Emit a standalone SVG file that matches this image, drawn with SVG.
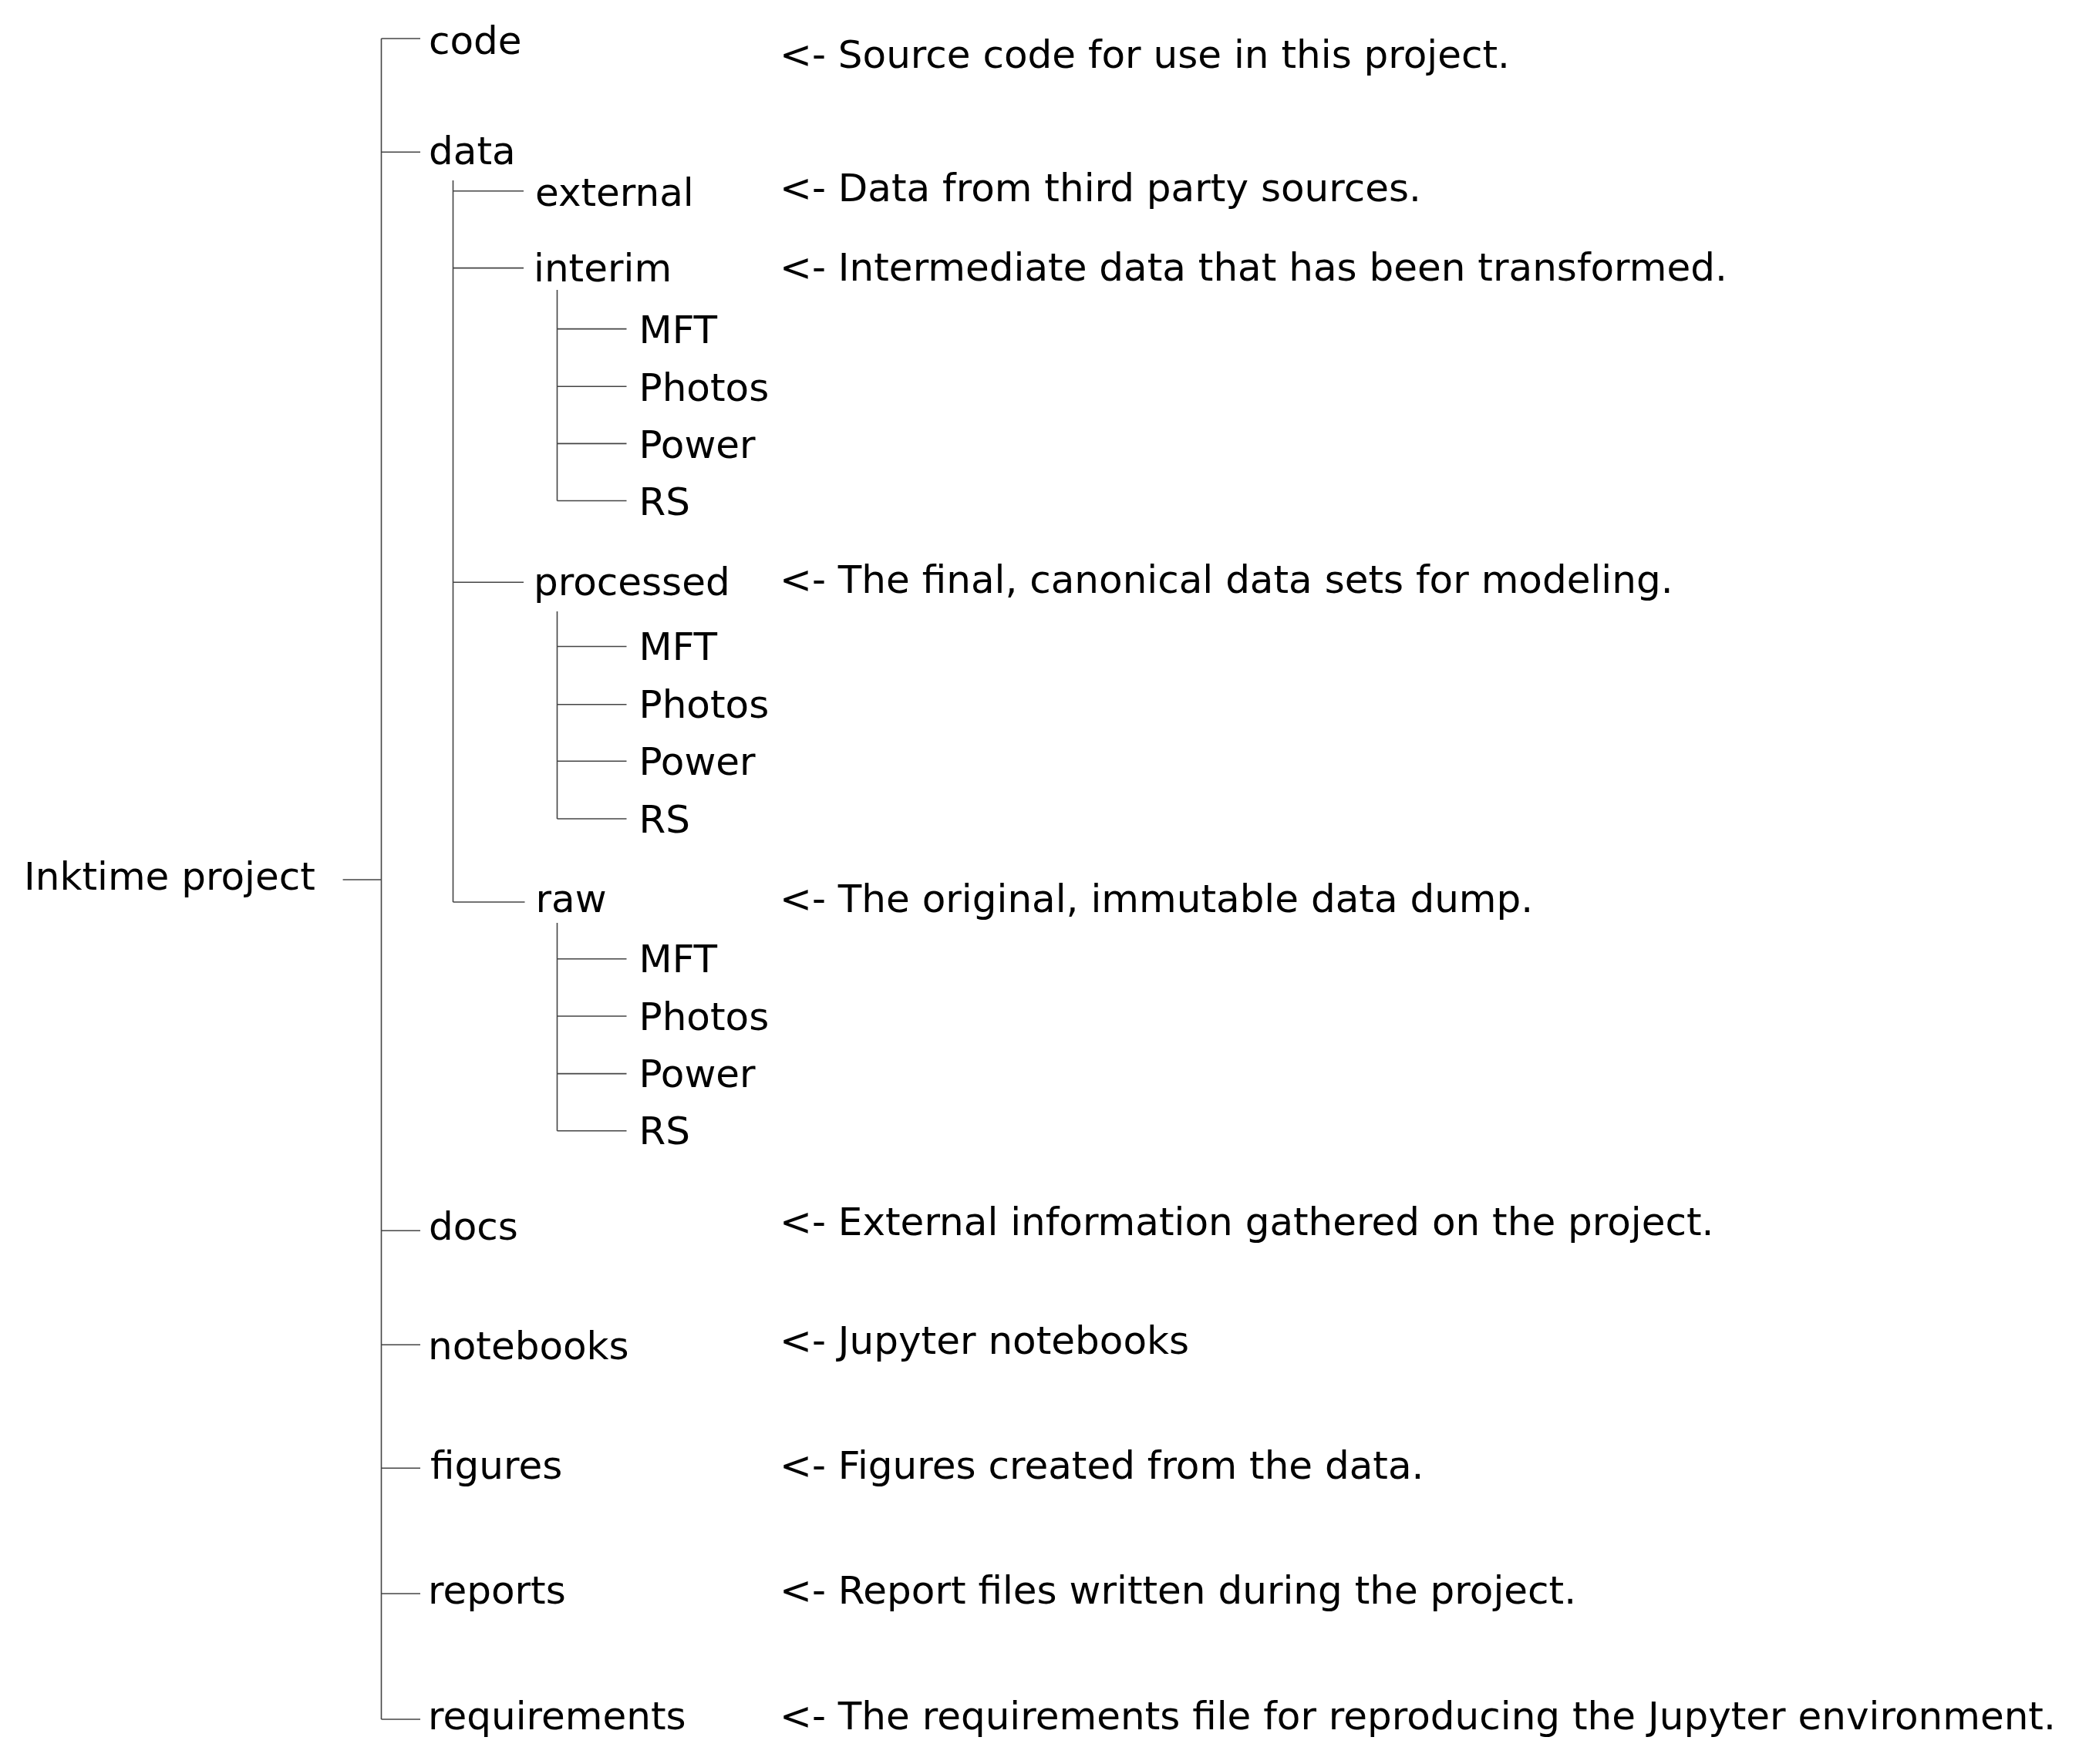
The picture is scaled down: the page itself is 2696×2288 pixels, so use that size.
<svg xmlns="http://www.w3.org/2000/svg" width="2696" height="2288" viewBox="0 0 2696 2288">
<style>
text{font-family:"DejaVu Sans","Liberation Sans",sans-serif;font-size:50px;fill:#000}
.c line{stroke:#444;stroke-width:1.6;fill:none}
</style>
<rect width="2696" height="2288" fill="#fff"/>
<g id="connectors" class="c">
<line x1="444.6" y1="1141" x2="494.5" y2="1141"/>
<line x1="494.5" y1="50" x2="494.5" y2="2230"/>
<line x1="494.5" y1="50" x2="545" y2="50"/>
<line x1="494.5" y1="197.3" x2="545" y2="197.3"/>
<line x1="494.5" y1="1596.3" x2="545" y2="1596.3"/>
<line x1="494.5" y1="1744.2" x2="545" y2="1744.2"/>
<line x1="494.5" y1="1904.2" x2="545" y2="1904.2"/>
<line x1="494.5" y1="2067" x2="545" y2="2067"/>
<line x1="494.5" y1="2230" x2="545" y2="2230"/>
<line x1="587.5" y1="234" x2="587.5" y2="1170"/>
<line x1="587.5" y1="247.7" x2="679" y2="247.7"/>
<line x1="587.5" y1="347.6" x2="679" y2="347.6"/>
<line x1="587.5" y1="755.2" x2="679" y2="755.2"/>
<line x1="587.5" y1="1170" x2="680.5" y2="1170"/>
<line x1="722.5" y1="376" x2="722.5" y2="649.5"/>
<line x1="722.5" y1="426.6" x2="812.5" y2="426.6"/>
<line x1="722.5" y1="501.2" x2="812.5" y2="501.2"/>
<line x1="722.5" y1="575.4" x2="812.5" y2="575.4"/>
<line x1="722.5" y1="649.5" x2="812.5" y2="649.5"/>
<line x1="722.5" y1="793" x2="722.5" y2="1062"/>
<line x1="722.5" y1="838.5" x2="812.5" y2="838.5"/>
<line x1="722.5" y1="913.7" x2="812.5" y2="913.7"/>
<line x1="722.5" y1="987.3" x2="812.5" y2="987.3"/>
<line x1="722.5" y1="1062" x2="812.5" y2="1062"/>
<line x1="722.5" y1="1197" x2="722.5" y2="1466.7"/>
<line x1="722.5" y1="1243.8" x2="812.5" y2="1243.8"/>
<line x1="722.5" y1="1318" x2="812.5" y2="1318"/>
<line x1="722.5" y1="1392.6" x2="812.5" y2="1392.6"/>
<line x1="722.5" y1="1466.7" x2="812.5" y2="1466.7"/>
</g>
<g id="root"><text x="31" y="1154">Inktime project</text></g>
<g id="code"><text x="556" y="70">code</text><text x="1011" y="87.5">&lt;- Source code for use in this project.</text></g>
<g id="data"><text x="556" y="213.3">data</text></g>
<g id="external"><text x="694" y="266.6">external</text><text x="1011" y="261">&lt;- Data from third party sources.</text></g>
<g id="interim"><text x="692" y="364.5">interim</text><text x="1011" y="364">&lt;- Intermediate data that has been transformed.</text></g>
<g id="interim-MFT"><text x="828.5" y="444.5">MFT</text></g>
<g id="interim-Photos"><text x="828.5" y="520">Photos</text></g>
<g id="interim-Power"><text x="828.5" y="593.8">Power</text></g>
<g id="interim-RS"><text x="828.5" y="668">RS</text></g>
<g id="processed"><text x="692" y="772">processed</text><text x="1011" y="769">&lt;- The ﬁnal, canonical data sets for modeling.</text></g>
<g id="processed-MFT"><text x="828.5" y="856">MFT</text></g>
<g id="processed-Photos"><text x="828.5" y="931">Photos</text></g>
<g id="processed-Power"><text x="828.5" y="1005">Power</text></g>
<g id="processed-RS"><text x="828.5" y="1079.5">RS</text></g>
<g id="raw"><text x="694.5" y="1182.7">raw</text><text x="1011" y="1182.6">&lt;- The original, immutable data dump.</text></g>
<g id="raw-MFT"><text x="828.5" y="1261">MFT</text></g>
<g id="raw-Photos"><text x="828.5" y="1335.5">Photos</text></g>
<g id="raw-Power"><text x="828.5" y="1410">Power</text></g>
<g id="raw-RS"><text x="828.5" y="1484">RS</text></g>
<g id="docs"><text x="556" y="1608">docs</text><text x="1011" y="1602">&lt;- External information gathered on the project.</text></g>
<g id="notebooks"><text x="555" y="1763">notebooks</text><text x="1011" y="1755.5">&lt;- Jupyter notebooks</text></g>
<g id="figures"><text x="558" y="1918">ﬁgures</text><text x="1011" y="1918">&lt;- Figures created from the data.</text></g>
<g id="reports"><text x="555" y="2079.6">reports</text><text x="1011" y="2079.6">&lt;- Report ﬁles written during the project.</text></g>
<g id="requirements"><text x="555" y="2243">requirements</text><text x="1011" y="2243">&lt;- The requirements ﬁle for reproducing the Jupyter environment.</text></g>
</svg>
